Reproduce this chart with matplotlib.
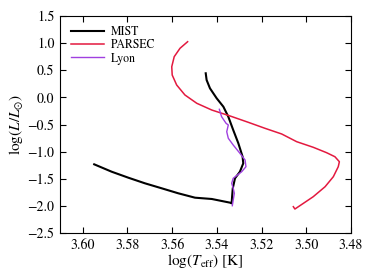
import matplotlib
matplotlib.use("Agg")
import matplotlib.pyplot as plt

plt.rcParams['font.family'] = ['STIXGeneral', 'DejaVu Serif']
plt.rcParams['mathtext.fontset'] = 'stix'

mist_teff = [3.5949, 3.5871, 3.5796, 3.5722, 3.5647, 3.5573, 3.5498, 3.5423, 3.5341,
             3.5334, 3.5332, 3.5329, 3.5319, 3.5297, 3.5282, 3.5285, 3.5304, 3.5327,
             3.5349, 3.5371, 3.5401, 3.5431, 3.5446, 3.5450]
mist_lum = [-1.234, -1.370, -1.481, -1.584, -1.676, -1.768, -1.849, -1.873, -1.941,
            -1.953, -1.831, -1.676, -1.492, -1.370, -1.215, -1.094, -0.847, -0.601,
            -0.356, -0.172, -0.017, 0.167, 0.320, 0.444]

parsec_teff = [3.5531, 3.5565, 3.5591, 3.5602, 3.5600, 3.5580, 3.5543, 3.5490, 3.5423,
               3.5341, 3.5260, 3.5185, 3.5110, 3.5043, 3.4969, 3.4909, 3.4872, 3.4852,
               3.4857, 3.4879, 3.4916, 3.4969, 3.5013, 3.5051, 3.5058]
parsec_lum = [1.026, 0.905, 0.750, 0.565, 0.412, 0.228, 0.044, -0.109, -0.233,
              -0.343, -0.459, -0.570, -0.675, -0.817, -0.920, -1.020, -1.094, -1.186,
              -1.278, -1.462, -1.647, -1.831, -1.953, -2.058, -2.015]

lyon_teff = [3.5389, 3.5379, 3.5359, 3.5349, 3.5356, 3.5349, 3.5327, 3.5297, 3.5274,
             3.5270, 3.5289, 3.5327, 3.5334, 3.5327, 3.5322, 3.5327, 3.5331]
lyon_lum = [-0.220, -0.356, -0.478, -0.509, -0.633, -0.754, -0.878, -1.031, -1.154,
            -1.278, -1.370, -1.492, -1.584, -1.676, -1.768, -1.892, -1.997]

fig = plt.figure(figsize=(3.74, 2.80), dpi=100)
ax = fig.add_axes([60/374, 1-233/280, (351-60)/374, (233-16)/280])

ax.plot(mist_teff, mist_lum, color='black', lw=1.5, label='MIST', solid_joinstyle='round')
ax.plot(parsec_teff, parsec_lum, color='#e3193f', lw=1.1, label='PARSEC', solid_joinstyle='round')
ax.plot(lyon_teff, lyon_lum, color='#a040e0', lw=1.0, label='Lyon', solid_joinstyle='round')

ax.set_xlim(3.6102, 3.48)
ax.set_ylim(-2.5, 1.5)
ax.set_xticks([3.60, 3.58, 3.56, 3.54, 3.52, 3.50, 3.48])
ax.set_xticklabels(['3.60', '3.58', '3.56', '3.54', '3.52', '3.50', '3.48'])
ax.set_yticks([1.5, 1.0, 0.5, 0.0, -0.5, -1.0, -1.5, -2.0, -2.5])
ax.set_yticklabels(['1.5', '1.0', '0.5', '0.0', '\u22120.5', '\u22121.0', '\u22121.5', '\u22122.0', '\u22122.5'])
ax.tick_params(direction='in', top=True, right=True, labelsize=10, length=4, width=0.8, pad=4)
for s in ax.spines.values():
    s.set_linewidth(0.8)

ax.set_xlabel(r'$\log(T_{\rm eff})$ [K]', fontsize=11, labelpad=0)
ax.set_ylabel(r'$\log(L/L_{\odot})$', fontsize=11, labelpad=2)

ax.legend(loc='upper left', frameon=False, fontsize=8.5, handlelength=2.8,
          borderaxespad=0.5, labelspacing=0.1, handletextpad=0.6)

fig.savefig('out.png', dpi=100)
